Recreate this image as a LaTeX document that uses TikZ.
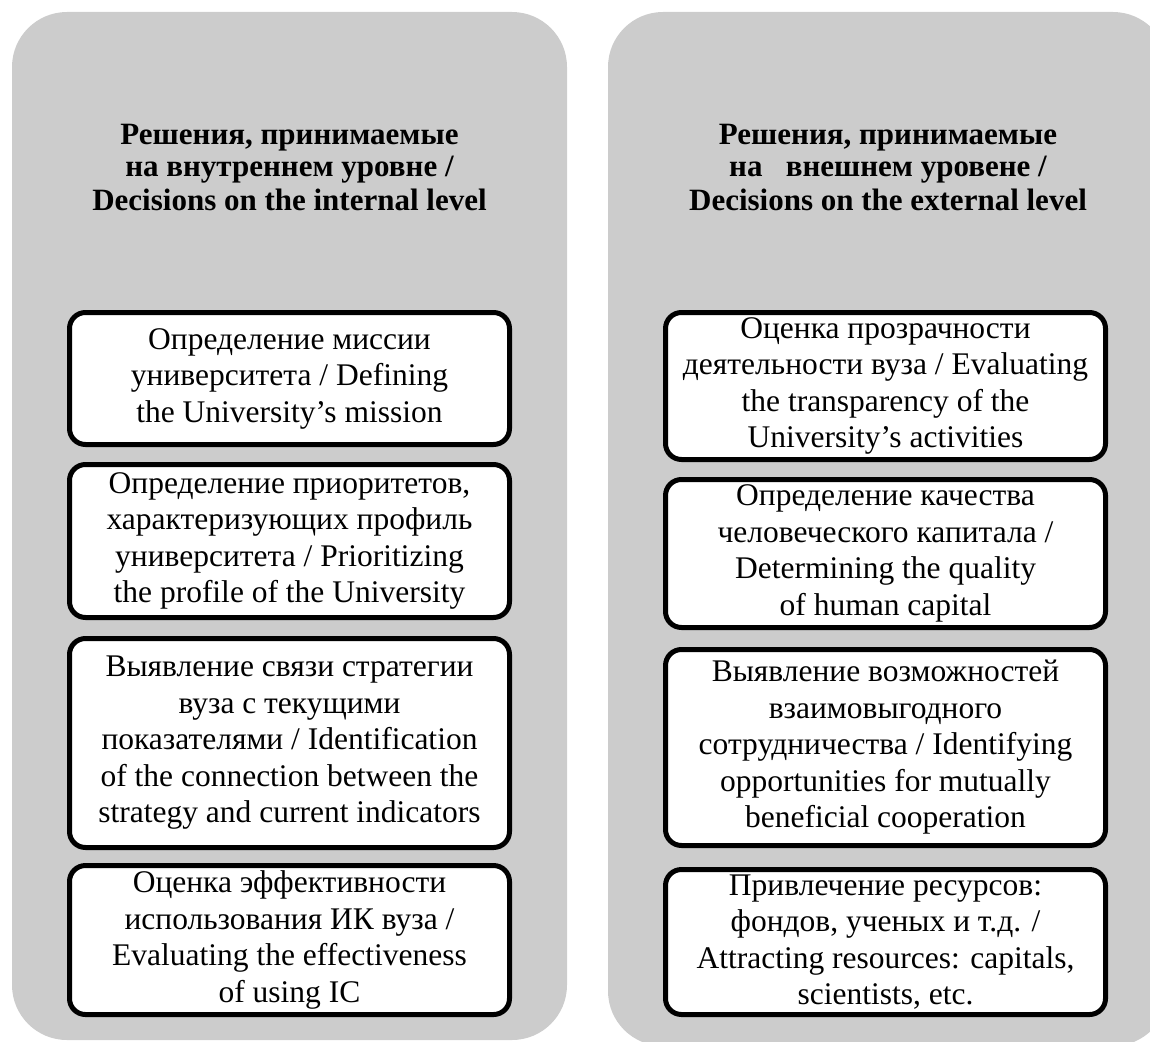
\documentclass[tikz,border=0pt]{standalone}
\usepackage{fontspec}
\setmainfont{Liberation Serif}
\usetikzlibrary{positioning}
\definecolor{panelgray}{RGB}{204,204,204}

\begin{document}
\begin{tikzpicture}[
    x=1pt, y=-1pt,
    panel/.style={fill=panelgray, rounded corners=55pt},
    head/.style={font=\fontsize{31}{33}\selectfont\bfseries, align=center},
    item/.style={draw, line width=5pt, rounded corners=16pt, fill=white, align=center,
      minimum width=440pt, inner sep=0pt, font=\fontsize{31.5}{36.5}\selectfont}
  ]
  \useasboundingbox (0,0) rectangle (1150,1041);
  \clip (0,0) rectangle (1150,1041);
  \fill[panel] (12,12) rectangle (567,1040);
  \fill[panel] (608,12) rectangle (1168,1046);

  \node[head] (inthead) at (289.5,167) {Решения, принимаемые\\на внутреннем уровне /\\Decisions on the internal level};
  \node[head] (exthead) at (888,167) {Решения, принимаемые\\на\ \ \ внешнем уровене /\\Decisions on the external level};

  \node[item, minimum height=132pt] (mission) at (289.5,378.5) {Определение миссии\\университета / Defining\\the University's mission};
  \node[item, minimum height=153pt] (profile) at (289.5,541) {Определение приоритетов,\\характеризующих профиль\\университета / Prioritizing\\the profile of the University};
  \node[item, minimum height=209pt] (strategy) at (289.5,743) {Выявление связи стратегии\\вуза с текущими\\показателями / Identification\\of the connection between the\\strategy and current indicators};
  \node[item, minimum height=149pt] (usage) at (289.5,940) {Оценка эффективности\\использования ИК вуза /\\Evaluating the effectiveness\\of using IC};

  \node[item, minimum height=147pt] (transp) at (885.5,386) {Оценка прозрачности\\деятельности вуза / Evaluating\\the transparency of the\\University's activities};
  \node[item, minimum height=148pt] (capital) at (885.5,553.5) {Определение качества\\человеческого капитала /\\Determining the quality\\of human capital};
  \node[item, minimum height=196pt] (coop) at (885.5,747.5) {Выявление возможностей\\взаимовыгодного\\сотрудничества / Identifying\\opportunities for mutually\\beneficial cooperation};
  \node[item, minimum height=145pt] (resources) at (885.5,942) {Привлечение ресурсов:\\фондов, ученых и т.д. /\\Attracting resources: capitals,\\scientists, etc.};
\end{tikzpicture}
\end{document}
